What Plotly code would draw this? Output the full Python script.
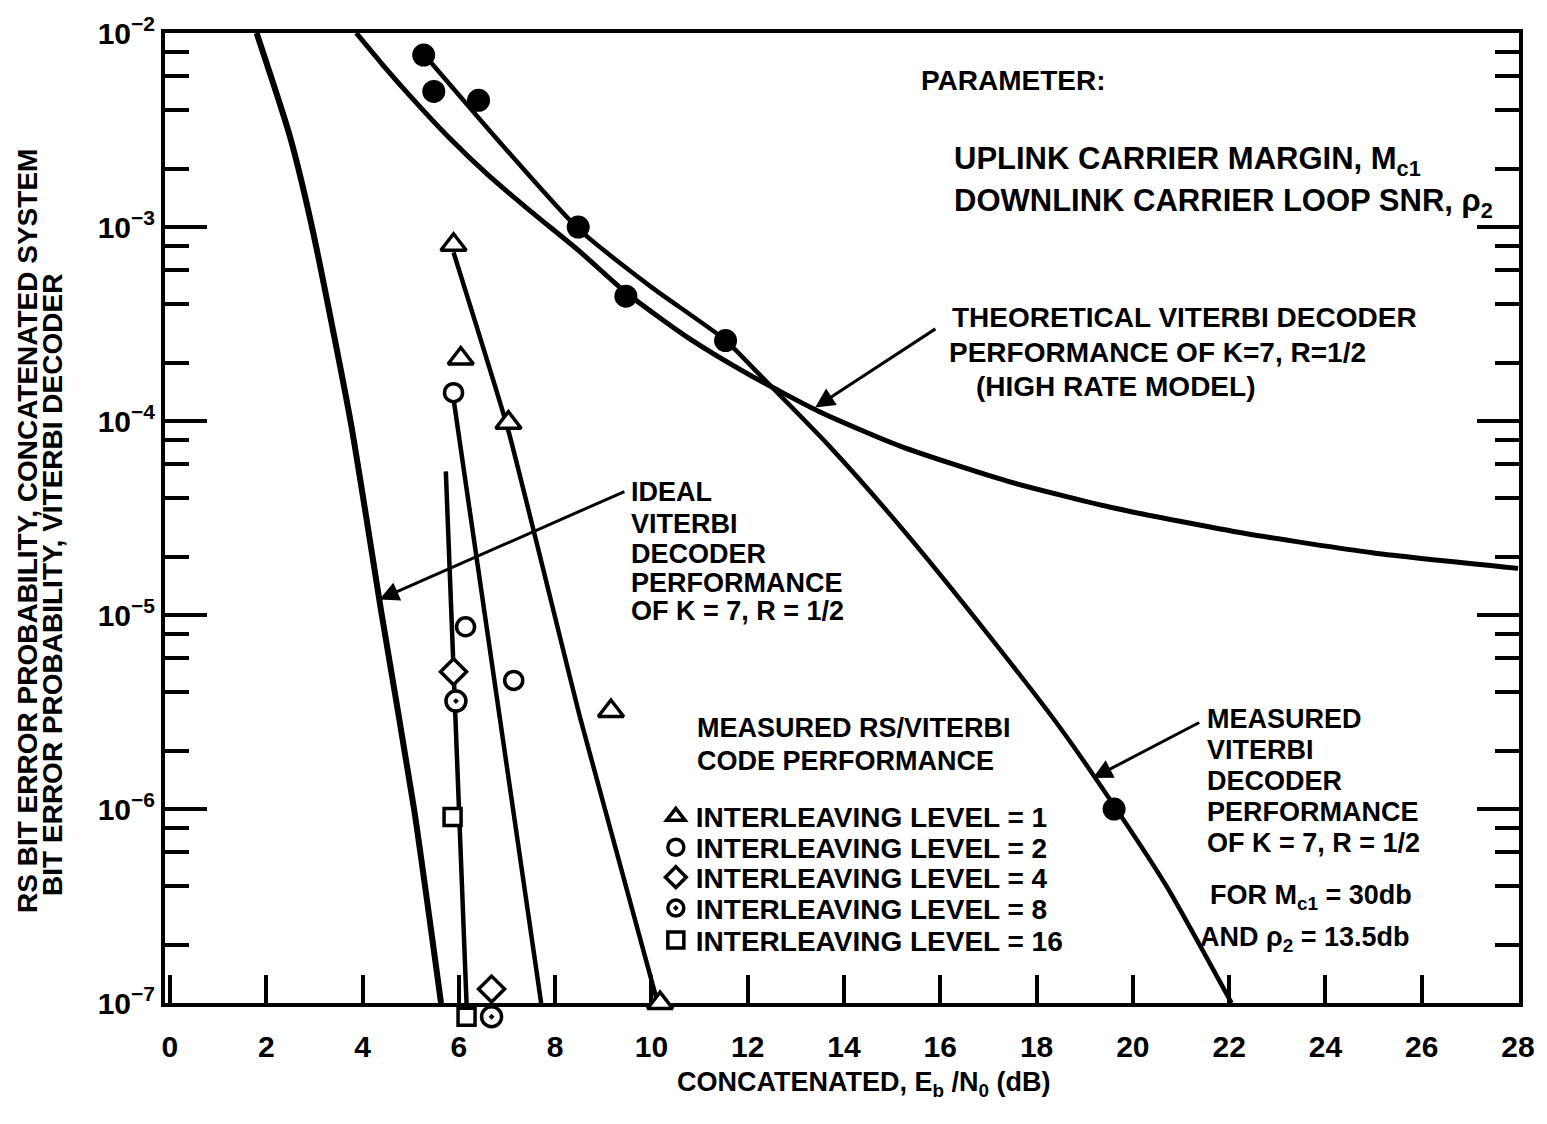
import plotly.graph_objects as go

FONT = "Liberation Sans"

# Ideal Viterbi decoder, K=7, R=1/2
ideal_db = [1.80, 2.48, 2.95, 3.75, 4.40, 5.07, 5.63]
ideal_ber = [1.0e-2, 3.0e-3, 1.0e-3, 1.0e-4, 1.0e-5, 1.0e-6, 1.0e-7]

# Theoretical Viterbi decoder (high rate model)
theory_db = [3.87, 4.41, 5.0, 5.79, 6.6, 7.45, 8.48, 9.47, 10.75, 12.02, 13.48,
             15.18, 17.39, 19.63, 22.34, 25.0, 28.0]
theory_ber = [1.0e-2, 6.9e-3, 4.7e-3, 2.9e-3, 1.86e-3, 1.23e-3, 7.6e-4, 4.6e-4,
              2.7e-4, 1.74e-4, 1.12e-4, 7.4e-5, 4.9e-5, 3.55e-5, 2.63e-5,
              2.09e-5, 1.74e-5]

# Measured Viterbi decoder (fitted curve and data points)
meas_line_db = [5.27, 6.9, 8.48, 10.0, 11.52, 12.2, 13.7, 15.2, 17.0, 18.5,
                19.6, 20.7, 22.05]
meas_line_ber = [7.8e-3, 2.65e-3, 9.8e-4, 4.9e-4, 2.63e-4, 1.78e-4, 7.4e-5,
                 2.8e-5, 7.9e-6, 2.6e-6, 1.05e-6, 4.0e-7, 1.0e-7]
meas_dot_db = [5.27, 5.48, 6.41, 8.48, 9.47, 11.54, 19.61]
meas_dot_ber = [7.7e-3, 5.0e-3, 4.5e-3, 1.0e-3, 4.4e-4, 2.6e-4, 1.0e-6]

# Measured RS/Viterbi concatenated code: fitted lines
il1_line_db = [5.89, 7.03, 8.52, 10.13]
il1_line_ber = [7.4e-4, 8.9e-5, 2.95e-6, 1.0e-7]
il2_line_db = [5.89, 7.71]
il2_line_ber = [1.3e-4, 1.0e-7]
ilhi_line_db = [5.73, 6.16]
ilhi_line_ber = [5.5e-5, 1.0e-7]

# Measured RS/Viterbi concatenated code: points per interleaving level
lvl1_db = [5.89, 6.04, 7.03, 9.16, 10.18]
lvl1_ber = [8.1e-4, 2.1e-4, 9.8e-5, 3.2e-6, 1.0e-7]
lvl2_db = [5.89, 6.14, 7.14]
lvl2_ber = [1.4e-4, 8.7e-6, 4.6e-6]
lvl4_db = [5.89, 6.68]
lvl4_ber = [5.1e-6, 1.18e-7]
lvl8_db = [5.94, 6.68]
lvl8_ber = [3.6e-6, 8.5e-8]
lvl16_db = [5.87, 6.16]
lvl16_ber = [9.1e-7, 8.5e-8]

levels = [
    ("INTERLEAVING LEVEL = 1", lvl1_db, lvl1_ber, "triangle-up", 22),
    ("INTERLEAVING LEVEL = 2", lvl2_db, lvl2_ber, "circle", 18),
    ("INTERLEAVING LEVEL = 4", lvl4_db, lvl4_ber, "diamond", 20),
    ("INTERLEAVING LEVEL = 8", lvl8_db, lvl8_ber, "circle-dot", 20),
    ("INTERLEAVING LEVEL = 16", lvl16_db, lvl16_ber, "square", 17),
]

y_major = [1e-7, 1e-6, 1e-5, 1e-4, 1e-3, 1e-2]
y_major_text = ["10<sup>\u22127</sup>", "10<sup>\u22126</sup>", "10<sup>\u22125</sup>",
                "10<sup>\u22124</sup>", "10<sup>\u22123</sup>", "10<sup>\u22122</sup>"]
y_minor = [m * d for d in y_major[:-1] for m in (2, 4, 6, 8)]

# page geometry: the framed plot spans L..R, T..B; the paper area reaches a
# little lower (PB) so points plotted just under the bottom axis stay visible
W, H = 1547, 1124
L, R, T, B = 165, 1525, 30, 1003
PB = 1023
PX_PER_DECADE = (B - T) / 5.0
y_dom0 = (PB - B) / (PB - T)
y2_low = -7 - (PB - B) / PX_PER_DECADE


def px(xp):
    return (xp - L) / (R - L)


def py(yp):
    return (PB - yp) / (PB - T)


fig = go.Figure()

fig.add_trace(go.Scatter(x=ideal_db, y=ideal_ber, mode="lines", showlegend=False,
                         line=dict(color="black", width=6, shape="spline", smoothing=0.6)))
fig.add_trace(go.Scatter(x=theory_db, y=theory_ber, mode="lines", showlegend=False,
                         line=dict(color="black", width=5, shape="spline", smoothing=0.6)))
fig.add_trace(go.Scatter(x=meas_line_db, y=meas_line_ber, mode="lines", showlegend=False,
                         line=dict(color="black", width=4.5, shape="spline", smoothing=0.6)))
for xs, ys in [(il1_line_db, il1_line_ber), (il2_line_db, il2_line_ber),
               (ilhi_line_db, ilhi_line_ber)]:
    fig.add_trace(go.Scatter(x=xs, y=ys, mode="lines", showlegend=False,
                             line=dict(color="black", width=4.5, shape="spline", smoothing=0.4)))

fig.add_trace(go.Scatter(x=meas_dot_db, y=meas_dot_ber, mode="markers", showlegend=False,
                         marker=dict(symbol="circle", size=23, color="black"),
                         cliponaxis=False))

legend_rows = [816, 847, 877, 908, 940]
legend_names = ["legend", "legend2", "legend3", "legend4", "legend5"]
for (name, xs, ys, sym, size), lname in zip(levels, legend_names):
    fig.add_trace(go.Scatter(
        x=xs, y=ys, xaxis="x", yaxis="y2", mode="markers", name=name, legend=lname,
        marker=dict(symbol=sym, size=size, color="white",
                    line=dict(color="black", width=3.5)),
        cliponaxis=False))

legend_font = dict(family=FONT, size=28, color="black", weight="bold")
legend_layout = {}
for lname, row in zip(legend_names, legend_rows):
    legend_layout[lname] = dict(
        x=px(658), y=py(row), xanchor="left", yanchor="middle",
        xref="paper", yref="paper",
        bgcolor="rgba(0,0,0,0)", borderwidth=0, font=legend_font,
        itemsizing="trace", tracegroupgap=0)

annotations = []


def label(text, xp, yp, size=28, xanchor="left"):
    annotations.append(dict(
        text=text, x=px(xp), y=py(yp), xref="paper", yref="paper",
        xanchor=xanchor, yanchor="middle", showarrow=False,
        font=dict(family=FONT, size=size, color="black", weight="bold")))


label("PARAMETER:", 922, 78, 28)
label("UPLINK CARRIER MARGIN, M<sub>c1</sub>", 955, 158, 31)
label("DOWNLINK CARRIER LOOP SNR, \u03c1<sub>2</sub>", 955, 201, 31)

label("THEORETICAL VITERBI DECODER", 953, 315, 28)
label("PERFORMANCE OF K=7, R=1/2", 950, 350, 28)
label("(HIGH RATE MODEL)", 978, 385, 28)

for txt, yp in [("IDEAL", 490), ("VITERBI", 522), ("DECODER", 553),
                ("PERFORMANCE", 582), ("OF K = 7, R = 1/2", 610)]:
    label(txt, 631, yp, 27)

label("MEASURED RS/VITERBI", 697, 727, 27)
label("CODE PERFORMANCE", 697, 760, 27)

for txt, yp in [("MEASURED", 718), ("VITERBI", 749), ("DECODER", 780),
                ("PERFORMANCE", 811), ("OF K = 7, R = 1/2", 842)]:
    label(txt, 1210, yp, 27)
label("FOR M<sub>c1</sub> = 30db", 1213, 897, 27)
label("AND \u03c1<sub>2</sub> = 13.5db", 1203, 939, 27)

# axis title below the x axis
label("CONCATENATED, E<sub>b</sub> /N<sub>0</sub> (dB)", 867, 1084, 27, xanchor="center")

# two-line y axis title, rotated
for txt, xp, yb in [("RS BIT ERROR PROBABILITY, CONCATENATED SYSTEM", 27, 915),
                    ("BIT ERROR PROBABILITY, VITERBI DECODER", 52, 897)]:
    annotations.append(dict(
        text=txt, x=px(xp), y=py(yb), xref="paper", yref="paper",
        xanchor="center", yanchor="bottom", textangle=-90, showarrow=False,
        font=dict(family=FONT, size=28, color="black", weight="bold")))

# pointer arrows (log axis: y given as log10)
for tip, tail in [((4.35, -4.92), (9.47, -4.36)),
                  ((13.40, -3.93), (15.93, -3.52)),
                  ((19.17, -5.84), (21.41, -5.55))]:
    annotations.append(dict(
        x=tip[0], y=tip[1], ax=tail[0], ay=tail[1], xref="x", yref="y",
        axref="x", ayref="y", text="", showarrow=True, arrowhead=2,
        arrowsize=1.3, arrowwidth=3, arrowcolor="black", standoff=0))

fig.update_layout(
    width=W, height=H,
    margin=dict(l=L, r=W - R, t=T, b=H - PB),
    paper_bgcolor="white", plot_bgcolor="rgba(0,0,0,0)",
    font=dict(family=FONT, color="black", weight="bold"),
    showlegend=True,
    annotations=annotations,
    **legend_layout,
)

fig.update_layout(
    xaxis=dict(
        range=[-0.103, 28.02], tickmode="array", tickvals=list(range(0, 29, 2)),
        ticks="inside", ticklen=28, tickwidth=4, tickcolor="black",
        showline=True, linewidth=4, linecolor="black", mirror=True,
        showgrid=False, zeroline=False, anchor="y",
        tickfont=dict(family=FONT, size=30, color="black", weight="bold"),
        ticklabelstandoff=14,
    ),
    yaxis=dict(
        type="log", range=[-7, -2], domain=[y_dom0, 1], tickmode="array",
        tickvals=y_major, ticktext=y_major_text,
        ticks="inside", ticklen=42, tickwidth=4, tickcolor="black",
        minor=dict(tickmode="array", tickvals=y_minor, ticks="inside", ticklen=24,
                   tickwidth=4, tickcolor="black", showgrid=False),
        showline=True, linewidth=4, linecolor="black", mirror="ticks",
        showgrid=False, zeroline=False, anchor="x",
        tickfont=dict(family=FONT, size=30, color="black", weight="bold"),
    ),
    yaxis2=dict(
        type="log", range=[y2_low, -2], domain=[0, 1], anchor="x",
        visible=False, showgrid=False, zeroline=False,
    ),
)

fig.write_html("out.html")
